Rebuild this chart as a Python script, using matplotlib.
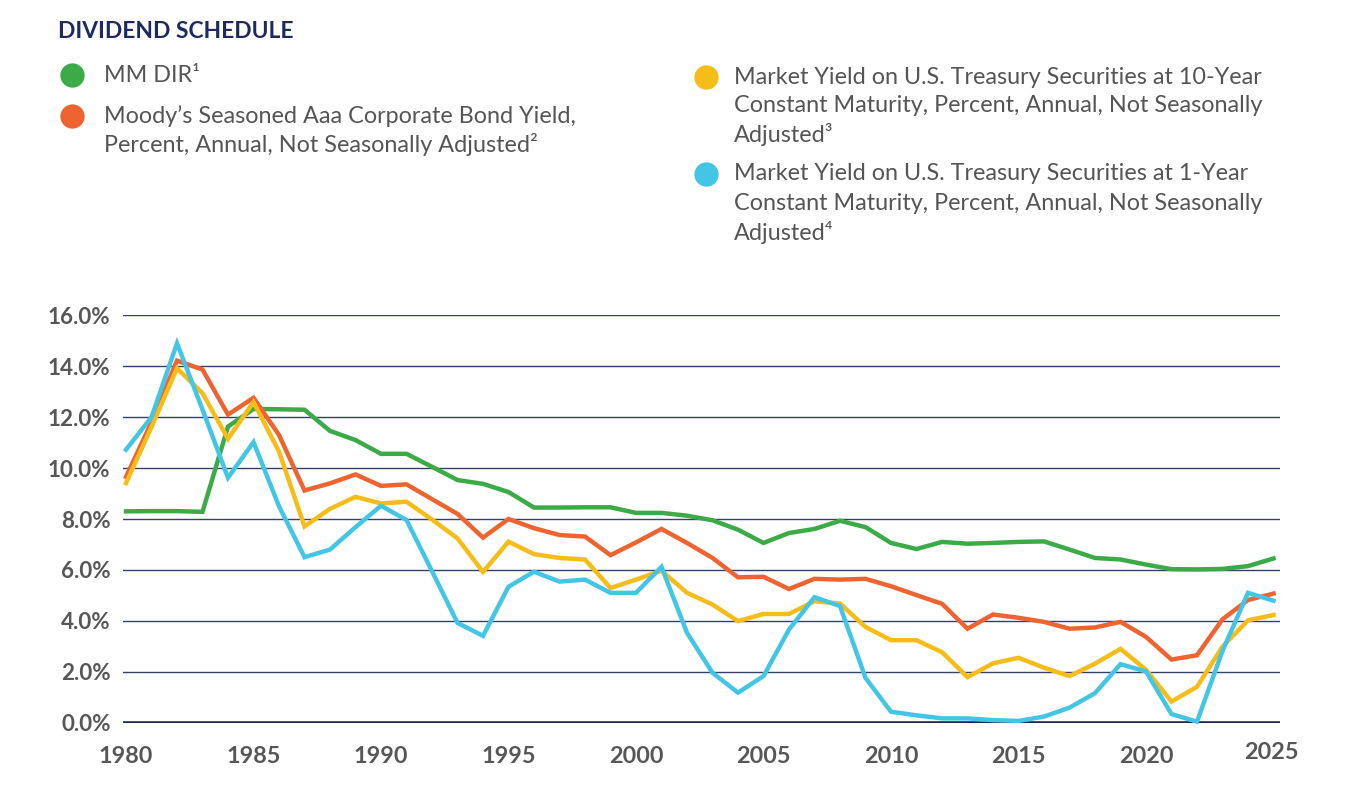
import matplotlib
matplotlib.use("Agg")
import matplotlib.pyplot as plt
from matplotlib.lines import Line2D
from matplotlib.ticker import FuncFormatter
import matplotlib.transforms as mtransforms

plt.rcParams['font.family'] = ['Lato', 'DejaVu Sans']

years = list(range(1980, 2026))

mm_dir = [8.30, 8.31, 8.31, 8.28, 11.63, 12.32, 12.31, 12.29, 11.46, 11.10,
          10.56, 10.56, 10.05, 9.53, 9.38, 9.06, 8.45, 8.45, 8.46, 8.46,
          8.24, 8.24, 8.13, 7.95, 7.58, 7.06, 7.45, 7.61, 7.93, 7.68,
          7.06, 6.82, 7.10, 7.03, 7.06, 7.10, 7.12, 6.80, 6.47, 6.41,
          6.21, 6.03, 6.02, 6.04, 6.15, 6.45]

aaa = [9.65, 11.80, 14.22, 13.87, 12.10, 12.76, 11.30, 9.12, 9.40, 9.75,
       9.30, 9.36, 8.78, 8.20, 7.27, 8.00, 7.64, 7.37, 7.31, 6.58,
       7.08, 7.61, 7.06, 6.47, 5.71, 5.73, 5.25, 5.65, 5.62, 5.65,
       5.36, 5.01, 4.67, 3.69, 4.25, 4.12, 3.96, 3.69, 3.74, 3.96,
       3.37, 2.48, 2.65, 4.06, 4.82, 5.07]

t10 = [9.41, 11.61, 13.92, 12.94, 11.15, 12.59, 10.65, 7.71, 8.40, 8.87,
       8.61, 8.68, 7.98, 7.24, 5.92, 7.11, 6.62, 6.47, 6.41, 5.29,
       5.62, 5.97, 5.10, 4.64, 3.99, 4.27, 4.27, 4.77, 4.68, 3.76,
       3.24, 3.24, 2.77, 1.79, 2.33, 2.55, 2.16, 1.83, 2.32, 2.90,
       2.08, 0.83, 1.41, 2.99, 4.02, 4.23]

t1 = [10.72, 12.00, 14.90, 12.30, 9.62, 11.02, 8.50, 6.50, 6.80, 7.68,
      8.52, 7.96, 5.95, 3.92, 3.41, 5.34, 5.93, 5.54, 5.62, 5.10,
      5.10, 6.12, 3.53, 1.96, 1.18, 1.83, 3.66, 4.93, 4.58, 1.76,
      0.43, 0.29, 0.17, 0.17, 0.10, 0.07, 0.24, 0.59, 1.16, 2.30,
      2.01, 0.34, 0.04, 2.82, 5.10, 4.79]

series_colors = {
    'green': '#3bab47',
    'orange': '#ee6431',
    'yellow': '#f6bd18',
    'cyan': '#43c5e6',
}

title = "DIVIDEND SCHEDULE"
legend_left = [
    ('green', ["MM DIR\u00b9"]),
    ('orange', ["Moody\u2019s Seasoned Aaa Corporate Bond Yield,",
                "Percent, Annual, Not Seasonally Adjusted\u00b2"]),
]
legend_right = [
    ('yellow', ["Market Yield on U.S. Treasury Securities at 10-Year",
                "Constant Maturity, Percent, Annual, Not Seasonally",
                "Adjusted\u00b3"]),
    ('cyan', ["Market Yield on U.S. Treasury Securities at 1-Year",
              "Constant Maturity, Percent, Annual, Not Seasonally",
              "Adjusted\u2074"]),
]

y_ticks = [0, 2, 4, 6, 8, 10, 12, 14, 16]
x_ticks = [1980, 1985, 1990, 1995, 2000, 2005, 2010, 2015, 2020, 2025]

W, H = 1368, 808
fig = plt.figure(figsize=(W / 100, H / 100), dpi=100)
fig.patch.set_facecolor('white')


def fx(px):
    return px / W


def fy(py):
    return 1 - py / H


ax_left, ax_right = 123, 1280
ax_top, ax_bottom = 315.3, 722.7
ax = fig.add_axes([fx(ax_left), fy(ax_bottom), (ax_right - ax_left) / W,
                   (ax_bottom - ax_top) / H])
ax.set_xlim(1980 - 3 / 25.5, 2025 + (ax_right - 1273.5) / 25.5)
ax.set_ylim(0, 16)

for s in ax.spines.values():
    s.set_visible(False)

grid_color = '#35406b'
for v in y_ticks[1:]:
    ax.axhline(v, color=grid_color, lw=1.0, zorder=1)
ax.axhline(0, color='#1c2657', lw=2.6, zorder=1)

lw = 3.2
ax.plot(years, mm_dir, color=series_colors['green'], lw=lw, zorder=3,
        solid_joinstyle='miter', clip_on=False)
ax.plot(years, aaa, color=series_colors['orange'], lw=lw, zorder=3,
        solid_joinstyle='miter', clip_on=False)
ax.plot(years, t10, color=series_colors['yellow'], lw=lw, zorder=3,
        solid_joinstyle='miter', clip_on=False)
ax.plot(years, t1, color=series_colors['cyan'], lw=lw, zorder=4,
        solid_joinstyle='miter', clip_on=False)

ax.set_yticks(y_ticks)
ax.yaxis.set_major_formatter(FuncFormatter(lambda v, p: f"{v:.1f}%"))
ax.set_xticks(x_ticks)
ax.set_xticklabels([str(x) for x in x_ticks])
ax.tick_params(axis='both', length=0, labelcolor='#575757')
ax.tick_params(axis='y', pad=9, labelsize=16.1)
ax.tick_params(axis='x', pad=17, labelsize=16.8)
for lab in ax.get_xticklabels() + ax.get_yticklabels():
    lab.set_fontweight('bold')
# the last year label sits slightly higher and left in the reference
last = ax.get_xticklabels()[-1]
last.set_transform(last.get_transform() +
                   mtransforms.ScaledTranslation(-2 / 100, 4 / 100, fig.dpi_scale_trans))

# Title
fig.text(fx(58), fy(32), title, fontsize=16.4, fontweight='bold',
         color='#1d2a5d', va='center', ha='left')

text_color = '#555555'
line_gap = 29


def draw_legend(items, circ_x, text_x, starts):
    for (key, lines), y0 in zip(items, starts):
        fig.add_artist(Line2D([fx(circ_x)], [fy(y0)], marker='o', markersize=17.5,
                              markerfacecolor=series_colors[key], markeredgewidth=0,
                              linestyle='none', transform=fig.transFigure))
        for i, line in enumerate(lines):
            fig.text(fx(text_x), fy(y0 + i * line_gap), line, fontsize=16.8,
                     color=text_color, va='center', ha='left')


draw_legend(legend_left, 72, 104, [75, 116])
draw_legend(legend_right, 706, 734, [77, 174])

fig.savefig('out.png', dpi=100, facecolor='white')
